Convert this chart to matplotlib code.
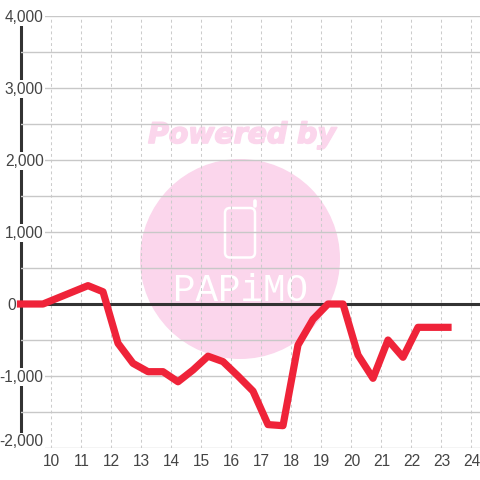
import matplotlib
matplotlib.use('Agg')
import matplotlib.pyplot as plt
import matplotlib.patheffects as pe
from matplotlib.patches import Circle, FancyBboxPatch
from matplotlib.transforms import ScaledTranslation

plt.rcParams['font.family'] = ['Liberation Sans', 'DejaVu Sans']

# half hour readings, first one sits on the axis
hours = [9.0, 9.25, 9.75, 10.25, 10.75, 11.25, 11.75, 12.25, 12.75, 13.25, 13.75,
         14.25, 14.75, 15.25, 15.75, 16.25, 16.75, 17.25, 17.75, 18.25, 18.75,
         19.25, 19.75, 20.25, 20.75, 21.25, 21.75, 22.25, 22.75, 23.25]
values = [0, 0, 0, 85, 170, 255, 170, -546, -824, -940, -940,
          -1080, -917, -725, -800, -1000, -1210, -1675, -1690, -570, -213,
          0, 0, -708, -1032, -500, -740, -324, -324, -324]

x_ticks = list(range(10, 25))
y_major = [-2000, -1000, 0, 1000, 2000, 3000, 4000]
y_minor = [-1500, -500, 500, 1500, 2500, 3500]
y_labels = ['-2,000', '-1,000', '0', '1,000', '2,000', '3,000', '4,000']

fig = plt.figure(figsize=(4.8, 4.8), dpi=100, facecolor='white')

# watermark goes behind everything, in pixel coordinates
wm = fig.add_axes([0, 0, 1, 1], zorder=-1)
wm.set_xlim(0, 480)
wm.set_ylim(480, 0)
wm.axis('off')
pink = '#fbd6ec'
wm.add_patch(Circle((240, 259), 100, facecolor=pink, edgecolor='none'))
wm.text(242, 135, 'Powered by', color=pink, fontsize=20.4, family='DejaVu Sans',
        fontweight='bold', fontstyle='oblique', ha='center', va='center',
        path_effects=[pe.withStroke(linewidth=1.2, foreground=pink)])
wm.add_patch(FancyBboxPatch((225, 208), 30, 49.5, boxstyle='round,pad=0,rounding_size=5',
                            facecolor='none', edgecolor='white', linewidth=1.8))
wm.plot([254.5, 254.5], [206, 201], color='white', linewidth=2.6, solid_capstyle='round')
wm.text(240, 291, 'PAPiMO', color='white', fontsize=27, family='Liberation Mono',
        ha='center', va='center')

# main plot
ax = fig.add_axes([20.5 / 480, 32 / 480, 459.5 / 480, 432 / 480], zorder=1)
ax.patch.set_visible(False)
ax.set_xlim(9, 9 + 459.5 / 30)
ax.set_ylim(-2000, 4000)
ax.set_axisbelow(True)

for s in ['top', 'right', 'bottom']:
    ax.spines[s].set_visible(False)
ax.spines['left'].set_linewidth(2.2)
ax.spines['left'].set_color('#333333')
ax.spines['left'].set_zorder(0.3)

ax.set_xticks(x_ticks)
ax.set_yticks(y_major + y_minor)
ax.set_yticklabels([])
ax.tick_params(length=0)
ax.tick_params(axis='x', labelsize=11.2, labelcolor='#444444', pad=4.5)
ax.grid(axis='y', color='#c8c8c8', linewidth=1.0)
ax.grid(axis='x', color='#cccccc', linewidth=0.75, linestyle=(0, (2.8, 2.8)))

# x labels sit 1px right of the ticks
shift = ScaledTranslation(1 / 100, 0, fig.dpi_scale_trans)
for t in ax.get_xticklabels():
    t.set_transform(t.get_transform() + shift)

ax.axhline(0, color='#333333', linewidth=2.2, zorder=1)

# y labels sit on top of the axis with a white box, 0 and -2,000 are placed differently
for val, lab in zip(y_major, y_labels):
    xoff = -4 if lab == '0' else 23
    yoff = 6 if val == -2000 else -1
    ax.annotate(lab, xy=(0, val), xycoords=ax.get_yaxis_transform(),
                xytext=(xoff, yoff), textcoords='offset pixels', ha='right', va='center',
                fontsize=11.2, color='#444444', zorder=0.6, annotation_clip=False,
                bbox=dict(boxstyle='square,pad=0.1', facecolor='white', edgecolor='none'))

ax.plot(hours, values, color='#ef2339', linewidth=5.2, solid_joinstyle='round',
        solid_capstyle='projecting', clip_on=False, zorder=3)

fig.savefig('out.png', dpi=100)
